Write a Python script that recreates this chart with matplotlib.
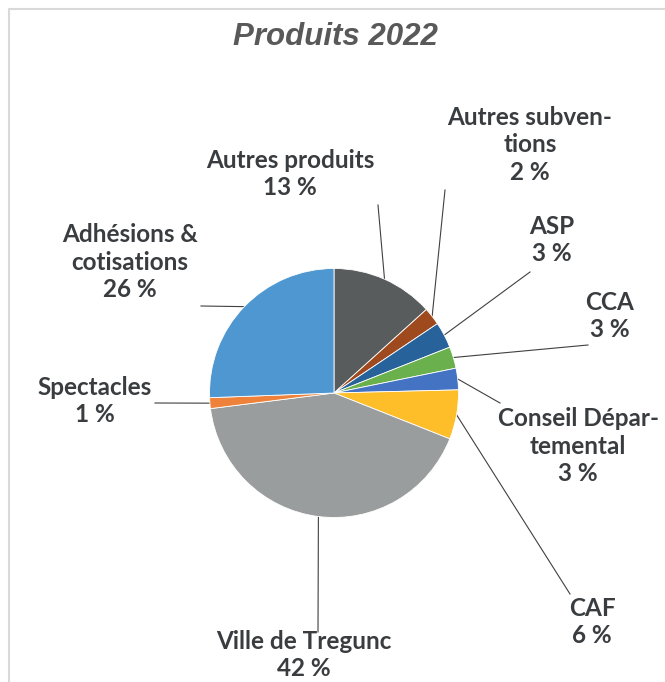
import matplotlib.pyplot as plt
import numpy as np

# data (share of total, %)
categories = ["Autres produits", "Autres subven-\ntions", "ASP", "CCA",
              "Conseil Dépar-\ntemental", "CAF", "Ville de Tregunc",
              "Spectacles", "Adhésions &\ncotisations"]
values = [13.3, 2.3, 3.4, 2.8, 2.8, 6.4, 42.0, 1.4, 25.6]
colors = ["#595c5c", "#9e4a1e", "#27629a", "#6ab04c", "#4373c2",
          "#fdbe2a", "#9a9d9d", "#ef823a", "#4f97d0"]

# layout in figure pixels (y measured from top)
W, H = 665, 682
cx, cy, R = 334, 393, 124.5
label_xy = [(290, 174), (530, 145), (552, 240), (610, 316), (578, 446),
            (592, 622), (304, 655), (95, 401), (130, 262)]
leader_end = [(378, 205), (445, 190), (530, 272), (588, 345), (500, 403),
              (570, 594), (318, 632), (155, 403), (201, 306)]

fig = plt.figure(figsize=(W / 100, H / 100), dpi=100)
ax = fig.add_axes([0, 0, 1, 1])

wedges, _ = ax.pie(values, colors=colors, center=(cx, H - cy), radius=R,
                   startangle=90, counterclock=False, frame=True,
                   wedgeprops=dict(edgecolor="white", linewidth=0.6))

# chart frame (only top and left visible in the crop)
ax.plot([8.5, 8.5, W], [0, H - 8.5, H - 8.5], color="#d9d9d9", lw=1.5)

total = sum(values)
for w, name, v, (lx, ly), (ex, ey) in zip(wedges, categories, values, label_xy, leader_end):
    mid = np.deg2rad((w.theta1 + w.theta2) / 2)
    px, py = cx + R * np.cos(mid), (H - cy) + R * np.sin(mid)
    ax.plot([px, ex], [py, H - ey], color="#404040", lw=0.8, zorder=0)
    ax.text(lx, H - ly, f"{name}\n{v / total * 100:.0f} %", ha="center", va="center",
            fontsize=17.5, fontweight="bold", family="Lato", color="#3a3d40",
            linespacing=1.25)

ax.text(335, H - 37, "Produits 2022", ha="center", va="center", fontsize=22.5,
        fontweight="bold", fontstyle="italic", family="Liberation Sans", color="#595959")

ax.set_xlim(0, W)
ax.set_ylim(0, H)
ax.set_aspect("auto")
ax.axis("off")

fig.savefig("out.png", dpi=100)
